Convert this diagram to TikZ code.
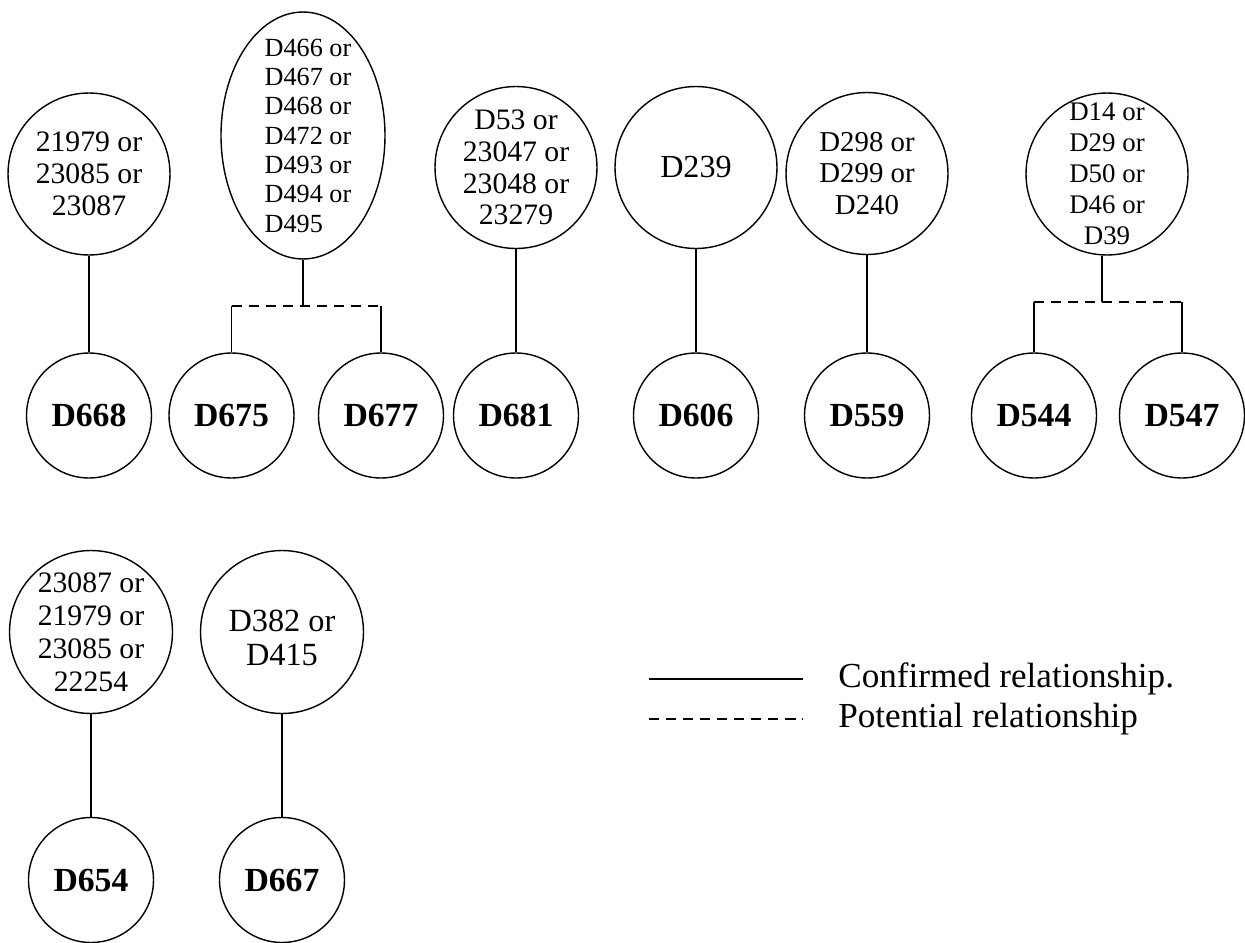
\documentclass[tikz,border=0pt]{standalone}
\usepackage{fontspec}
\setmainfont{Liberation Serif}
\usetikzlibrary{shapes.geometric, positioning}

\tikzset{
  idset/.style={ellipse, draw, line width=0.8pt, inner sep=0pt, minimum width=3.24cm, minimum height=3.24cm},
  setlabel/.style={align=center, inner sep=0pt},
  idnode/.style={circle, draw, line width=0.8pt, inner sep=0pt, minimum size=2.5cm, font=\fontsize{19.2}{22}\selectfont\bfseries},
  confirmed/.style={line width=0.8pt},
  potential/.style={line width=0.8pt, dash pattern=on 5.8pt off 3.9pt},
  legtext/.style={font=\fontsize{20}{24}\selectfont, inner sep=0pt}
}

\begin{document}
\begin{tikzpicture}[x=0.02cm, y=-0.02cm]
\useasboundingbox (0,0) rectangle (1245,943);

% Top row
\node[idset, label={[setlabel, font=\fontsize{16.9}{18.1}\selectfont]center:{21979 or\\23085 or\\23087}}] (s21979) at (89,174) {};
\node[idset, minimum width=3.28cm, minimum height=4.94cm, label={[setlabel, align=left, xshift=0.1cm, font=\fontsize{14.9}{16.7}\selectfont]center:{D466 or\\D467 or\\D468 or\\D472 or\\D493 or\\D494 or\\D495}}] (s466) at (303,135.5) {};
\node[idset, label={[setlabel, font=\fontsize{16.9}{18.1}\selectfont]center:{D53 or\\23047 or\\23048 or\\23279}}] (s53) at (516,167.5) {};
\node[idset, label={[setlabel, font=\fontsize{18.3}{20}\selectfont]center:{D239}}] (s239) at (696,167.5) {};
\node[idset, label={[setlabel, font=\fontsize{16.4}{18}\selectfont]center:{D298 or\\D299 or\\D240}}] (s298) at (867,173.5) {};
\node[idset, label={[setlabel, font=\fontsize{15.3}{17.6}\selectfont]center:{D14 or\\D29 or\\D50 or\\D46 or\\D39}}] (s14) at (1107,174) {};

\node[idnode] (d668) at (89,415.5) {D668};
\node[idnode] (d675) at (231.5,415.5) {D675};
\node[idnode] (d677) at (381,415.5) {D677};
\node[idnode] (d681) at (516,415.5) {D681};
\node[idnode] (d606) at (696,415.5) {D606};
\node[idnode] (d559) at (867,415.5) {D559};
\node[idnode] (d544) at (1034,415.5) {D544};
\node[idnode] (d547) at (1182,415.5) {D547};

\coordinate (j466) at (303,306);
\coordinate (j14) at (1102,302);

\draw[confirmed] (s21979) -- (d668);
\draw[confirmed] (s466) -- (j466);
\draw[potential] (d675 |- j466) -- (d677 |- j466);
\draw[confirmed] (d675 |- j466) -- (d675);
\draw[confirmed] (d677 |- j466) -- (d677);
\draw[confirmed] (s53) -- (d681);
\draw[confirmed] (s239) -- (d606);
\draw[confirmed] (s298) -- (d559);
\draw[confirmed] (s14.south -| j14) -- (j14);
\draw[potential] (d544 |- j14) -- (d547 |- j14);
\draw[confirmed] (d544 |- j14) -- (d544);
\draw[confirmed] (d547 |- j14) -- (d547);

% Bottom row
\node[idset, minimum size=3.26cm, label={[setlabel, font=\fontsize{16.9}{18.7}\selectfont]center:{23087 or\\21979 or\\23085 or\\22254}}] (s23087) at (91,632) {};
\node[idset, minimum size=3.26cm, label={[setlabel, yshift=-0.12cm, font=\fontsize{18.4}{19.8}\selectfont]center:{D382 or\\D415}}] (s382) at (282,632) {};
\node[idnode] (d654) at (91,880) {D654};
\node[idnode] (d667) at (282,880) {D667};

\draw[confirmed] (s23087) -- (d654);
\draw[confirmed] (s382) -- (d667);

% Legend
\coordinate (conf-a) at (649,679);
\coordinate (conf-b) at (803,679);
\coordinate (pot-a) at (649,719);
\coordinate (pot-b) at (803,719);
\draw[confirmed] (conf-a) -- (conf-b);
\draw[potential] (pot-a) -- (pot-b);
\node[legtext, anchor=west, right=0.7cm of conf-b] (conf-txt) {Confirmed relationship.};
\node[legtext, anchor=west, right=0.7cm of pot-b] (pot-txt) {Potential relationship};
\end{tikzpicture}
\end{document}
